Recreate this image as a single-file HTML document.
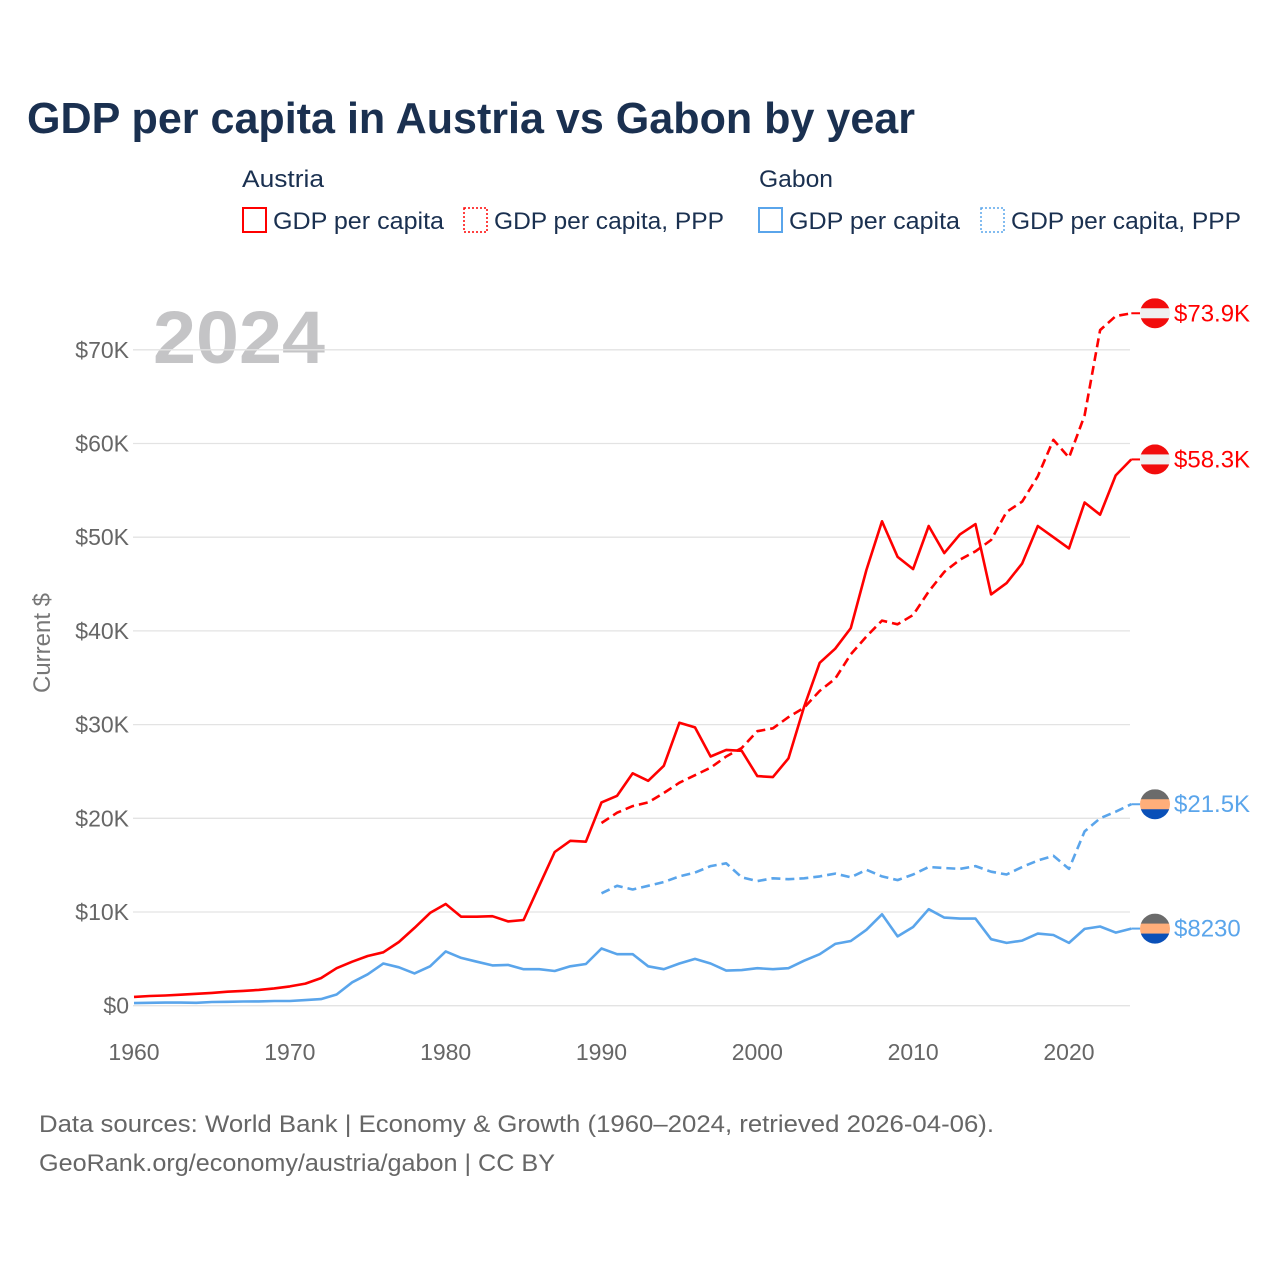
<!DOCTYPE html>
<html><head><meta charset="utf-8"><style>
html,body{margin:0;padding:0;background:#fff;}
svg{display:block;font-family:"Liberation Sans",sans-serif;}
</style></head><body>
<svg id="chart" width="1280" height="1280" viewBox="0 0 1280 1280" xmlns="http://www.w3.org/2000/svg">
<text x="27" y="133" font-size="44" font-weight="bold" fill="#1a3050" textLength="888" lengthAdjust="spacingAndGlyphs">GDP per capita in Austria vs Gabon by year</text>
<g font-size="24" fill="#1a3050">
  <text x="242" y="187" textLength="82" lengthAdjust="spacingAndGlyphs">Austria</text>
  <text x="759" y="187" textLength="74" lengthAdjust="spacingAndGlyphs">Gabon</text>
  <g><rect x="243" y="208" width="23" height="24" fill="none" stroke="#f00" stroke-width="2"/><text x="273" y="229" textLength="171" lengthAdjust="spacingAndGlyphs">GDP per capita</text></g>
  <g><rect x="464" y="208" width="23" height="24" fill="none" stroke="#f00" stroke-width="1.5" stroke-dasharray="2 2"/><text x="494" y="229" textLength="230" lengthAdjust="spacingAndGlyphs">GDP per capita, PPP</text></g>
  <g><rect x="759" y="208" width="23" height="24" fill="none" stroke="#5aa5eb" stroke-width="2"/><text x="789" y="229" textLength="171" lengthAdjust="spacingAndGlyphs">GDP per capita</text></g>
  <g><rect x="981" y="208" width="23" height="24" fill="none" stroke="#5aa5eb" stroke-width="1.5" stroke-dasharray="2 2"/><text x="1011" y="229" textLength="230" lengthAdjust="spacingAndGlyphs">GDP per capita, PPP</text></g>
</g>
<text x="153" y="363" font-size="74" font-weight="bold" fill="#c4c4c6" textLength="172" lengthAdjust="spacingAndGlyphs">2024</text>
<text transform="translate(50,643) rotate(-90)" text-anchor="middle" font-size="24" fill="#777">Current $</text>
<g id="grid"></g><g id="series"></g><g id="ends"></g>
<text x="39" y="1132" font-size="24" fill="#666" textLength="955" lengthAdjust="spacingAndGlyphs">Data sources: World Bank | Economy &amp; Growth (1960–2024, retrieved 2026-04-06).</text>
<text x="39" y="1171" font-size="24" fill="#666" textLength="516" lengthAdjust="spacingAndGlyphs">GeoRank.org/economy/austria/gabon | CC BY</text>
</svg>
<script>
const yTicks=[0,10,20,30,40,50,60,70];
const yTickLabels=["$0","$10K","$20K","$30K","$40K","$50K","$60K","$70K"];
const xTicks=[1960,1970,1980,1990,2000,2010,2020];
const austriaGdp=[0.94,1.03,1.09,1.17,1.27,1.37,1.49,1.58,1.69,1.85,2.06,2.36,2.95,4.0,4.7,5.3,5.7,6.8,8.3,9.9,10.85,9.5,9.5,9.55,9.0,9.15,12.8,16.4,17.6,17.5,21.7,22.4,24.8,24.0,25.6,30.2,29.7,26.6,27.3,27.2,24.5,24.4,26.4,31.9,36.6,38.1,40.3,46.5,51.7,47.9,46.6,51.2,48.3,50.3,51.4,43.9,45.1,47.2,51.2,50.0,48.8,53.7,52.4,56.6,58.3];
const austriaPpp=[19.5,20.6,21.3,21.7,22.7,23.8,24.6,25.4,26.6,27.5,29.3,29.6,30.8,31.8,33.6,34.9,37.5,39.4,41.1,40.7,41.7,44.2,46.3,47.6,48.5,49.7,52.7,53.8,56.5,60.4,58.5,63.0,72.1,73.6,73.9];
const gabonGdp=[0.28,0.31,0.33,0.33,0.31,0.4,0.42,0.45,0.46,0.5,0.5,0.6,0.7,1.2,2.5,3.35,4.5,4.1,3.45,4.2,5.8,5.1,4.7,4.3,4.35,3.9,3.9,3.7,4.2,4.45,6.1,5.5,5.5,4.2,3.9,4.5,5.0,4.5,3.75,3.8,4.0,3.9,4.0,4.8,5.5,6.6,6.9,8.1,9.75,7.4,8.4,10.3,9.4,9.3,9.3,7.1,6.7,6.95,7.7,7.55,6.7,8.2,8.45,7.8,8.23];
const gabonPpp=[12.0,12.8,12.4,12.8,13.2,13.8,14.2,14.9,15.2,13.7,13.3,13.6,13.5,13.6,13.8,14.1,13.7,14.5,13.8,13.4,14.0,14.8,14.7,14.6,14.9,14.3,14.0,14.8,15.5,16.0,14.6,18.6,20.0,20.7,21.5];
const endLabels=["$58.3K","$73.9K","$8230","$21.5K"];

const NS="http://www.w3.org/2000/svg";
const X=y=>134+(y-1960)*15.583;
const Y=v=>1005.7-v*9.37;
function mk(tag,attrs,parent){const e=document.createElementNS(NS,tag);for(const k in attrs)e.setAttribute(k,attrs[k]);parent.appendChild(e);return e;}
const grid=document.getElementById('grid'),ser=document.getElementById('series'),ends=document.getElementById('ends');
yTicks.forEach((t,i)=>{
  const l=mk('line',{x1:133,x2:1130,y1:Y(t),y2:Y(t),stroke:'#e3e3e3','stroke-width':1.3},grid);
  
  
  const tx=mk('text',{x:129,y:Y(t)+8,'text-anchor':'end','font-size':23,fill:'#666'},grid);
  tx.textContent=yTickLabels[i];
  
  
});
xTicks.forEach(t=>{
  const tx=mk('text',{x:X(t),y:1060,'text-anchor':'middle','font-size':23,fill:'#666'},grid);
  tx.textContent=t;
  
  
});
function line(vals,start,color,dash,name){
  const pts=vals.map((v,i)=>X(start+i).toFixed(1)+','+Y(v).toFixed(1)).join(' ');
  const p=mk('polyline',{points:pts,fill:'none',stroke:color,'stroke-width':2.6,'stroke-linejoin':'round'},ser);
  if(dash)p.setAttribute('stroke-dasharray','9 5');
  
  
}
line(gabonGdp,1960,'#5aa5eb',false,'line-gabon-gdp');
line(gabonPpp,1990,'#5aa5eb',true,'line-gabon-ppp');
line(austriaGdp,1960,'#ff0000',false,'line-austria-gdp');
line(austriaPpp,1990,'#ff0000',true,'line-austria-ppp');
const lastVals=[austriaGdp[austriaGdp.length-1],austriaPpp[austriaPpp.length-1],gabonGdp[gabonGdp.length-1],gabonPpp[gabonPpp.length-1]];
lastVals.forEach((v,i)=>{
  const cy=Y(v),cx=1155,r=15,austria=i<2;
  const g=mk('g',{},ends);
  
  
  mk('line',{x1:X(2024),x2:cx-r,y1:cy,y2:cy,stroke:austria?'#f00':'#5aa5eb','stroke-width':2},g);
  const id='c'+i;
  const cp=mk('clipPath',{id:id},g);mk('circle',{cx:cx,cy:cy,r:r},cp);
  const cols=austria?['#f20c0c','#efefef','#f20c0c']:['#6b6b6b','#ffae7a','#0a50b8'];
  cols.forEach((c,k)=>mk('rect',{x:cx-r,y:cy-r+k*10,width:2*r,height:10.5,fill:c,'clip-path':'url(#'+id+')'},g));
  const t=mk('text',{x:1174,y:cy+8,'font-size':24,fill:austria?'#f00':'#5aa5eb'},g);
  t.textContent=endLabels[i];
});
</script>
</body></html>
